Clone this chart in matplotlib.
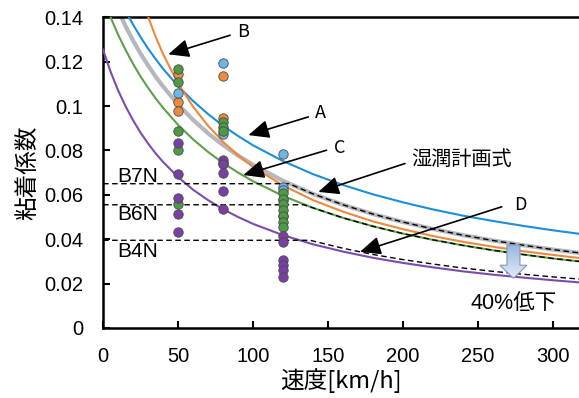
import matplotlib
matplotlib.use("Agg")
import numpy as np
import matplotlib.pyplot as plt
from matplotlib.patches import Polygon
from matplotlib.transforms import ScaledTranslation
from matplotlib.colors import LinearSegmentedColormap
from matplotlib.ticker import FuncFormatter

plt.rcParams['font.family'] = ['Liberation Sans', 'Noto Sans CJK JP', 'DejaVu Sans']
JP = ['Noto Sans CJK JP', 'DejaVu Sans']

# adhesion curves sampled along the speed axis [km/h]
speed = [0, 5, 10, 15, 20, 25, 30, 35, 40, 50, 60, 70, 80, 90, 100,
         120, 140, 160, 180, 200, 220, 240, 260, 280, 300, 320]
wet_plan = [0.160, 0.1511, 0.1432, 0.1360, 0.1295, 0.1236, 0.1183, 0.1133, 0.1088,
            0.1007, 0.0938, 0.0877, 0.0824, 0.0777, 0.0735, 0.0663, 0.0604, 0.0555,
            0.0513, 0.0477, 0.0446, 0.0418, 0.0394, 0.0373, 0.0353, 0.0336]
curve_a = [0.1654, 0.1571, 0.1496, 0.1428, 0.1367, 0.1311, 0.1259, 0.1212, 0.1168,
           0.1090, 0.1023, 0.0964, 0.0911, 0.0865, 0.0823, 0.0752, 0.0693, 0.0644,
           0.0602, 0.0566, 0.0534, 0.0506, 0.0482, 0.0460, 0.0440, 0.0422]
curve_b = [0.2418, 0.2154, 0.1944, 0.1772, 0.1628, 0.1507, 0.1403, 0.1313, 0.1234,
           0.1102, 0.0997, 0.0911, 0.0839, 0.0778, 0.0726, 0.0642, 0.0576, 0.0524,
           0.0480, 0.0445, 0.0414, 0.0388, 0.0366, 0.0346, 0.0329, 0.0313]
curve_c = [0.1488, 0.1400, 0.1322, 0.1253, 0.1190, 0.1133, 0.1082, 0.1035, 0.0992,
           0.0915, 0.0850, 0.0793, 0.0744, 0.0700, 0.0661, 0.0595, 0.0541, 0.0496,
           0.0458, 0.0425, 0.0397, 0.0372, 0.0350, 0.0331, 0.0313, 0.0298]
curve_d = [0.1254, 0.1155, 0.1071, 0.0999, 0.0936, 0.0880, 0.0831, 0.0787, 0.0748,
           0.0680, 0.0623, 0.0576, 0.0535, 0.0500, 0.0469, 0.0418, 0.0377, 0.0344,
           0.0316, 0.0293, 0.0273, 0.0255, 0.0240, 0.0227, 0.0215, 0.0204]

# brake notch limits (dashed)
b7n_speed = [0, 124, 140, 160, 180, 200, 220, 240, 260, 280, 300, 320]
b7n = [0.065, 0.065, 0.0604, 0.0555, 0.0513, 0.0477, 0.0446, 0.0418, 0.0394, 0.0373, 0.0353, 0.0336]
b6n_speed = [0, 134, 140, 160, 180, 200, 220, 240, 260, 280, 300, 320]
b6n = [0.0555, 0.0555, 0.0541, 0.0496, 0.0458, 0.0425, 0.0397, 0.0372, 0.0350, 0.0331, 0.0313, 0.0298]
b4n_speed = [0, 138, 160, 180, 200, 220, 240, 260, 280, 300, 320]
b4n = [0.0395, 0.0395, 0.0359, 0.0331, 0.0308, 0.0288, 0.0270, 0.0255, 0.0242, 0.0230, 0.0219]

# measured points per test speed
pts_speed_orange = [50, 50, 50, 80, 80, 120, 120]
pts_orange = [0.1145, 0.1018, 0.0979, 0.1136, 0.0947, 0.0578, 0.0505]
pts_speed_blue = [50, 80, 80, 120, 120, 120]
pts_blue = [0.1060, 0.1196, 0.0873, 0.0785, 0.0634, 0.0622]
pts_speed_green = [50, 50, 50, 50, 50, 80, 80, 80, 80,
                   120, 120, 120, 120, 120, 120, 120]
pts_green = [0.1169, 0.1110, 0.0889, 0.0803, 0.0558, 0.0929, 0.0906, 0.0888, 0.0742,
             0.0609, 0.0583, 0.0557, 0.0531, 0.0505, 0.0479, 0.0453]
pts_speed_purple = [50, 50, 50, 50, 50, 80, 80, 80, 80, 80,
                    120, 120, 120, 120, 120, 120]
pts_purple = [0.0832, 0.0696, 0.0584, 0.0512, 0.0431, 0.0757, 0.0741, 0.0697, 0.0615, 0.0535,
              0.0414, 0.0388, 0.0306, 0.0284, 0.0259, 0.0231]

x_ticks = [0, 50, 100, 150, 200, 250, 300]
y_ticks = [0, 0.02, 0.04, 0.06, 0.08, 0.10, 0.12, 0.14]

C_BLUE, C_ORANGE, C_GREEN, C_PURPLE, C_GRAY = '#1b8fd8', '#f0883a', '#5da04a', '#7b4cae', '#b4b7bd'
M_BLUE, M_ORANGE, M_GREEN, M_PURPLE = '#6db6e6', '#f08b3e', '#4e9a45', '#7a3fa5'

fig = plt.figure(figsize=(5.79, 3.98), dpi=100)
ax = fig.add_axes([0.178, 0.176, 0.822, 0.7806])

ax.plot(speed, wet_plan, color=C_GRAY, lw=3.0, zorder=2, solid_capstyle='butt')
ax.plot(speed, curve_a, color=C_BLUE, lw=1.5, zorder=3)
ax.plot(speed, curve_b, color=C_ORANGE, lw=1.5, zorder=3)
ax.plot(speed, curve_c, color=C_GREEN, lw=1.5, zorder=3)
ax.plot(speed, curve_d, color=C_PURPLE, lw=1.5, zorder=3)

dash = dict(color='black', lw=1.0, dashes=(4, 2.5), zorder=4)
ax.plot(b7n_speed, b7n, **dash)
ax.plot(b6n_speed, b6n, **dash)
ax.plot(b4n_speed, b4n, **dash)

mk = dict(s=46, edgecolors='#4a4a4a', linewidths=0.6, zorder=5)
ax.scatter(pts_speed_orange, pts_orange, color=M_ORANGE, **mk)
ax.scatter(pts_speed_blue, pts_blue, color=M_BLUE, **mk)
ax.scatter(pts_speed_green, pts_green, color=M_GREEN, **mk)
ax.scatter(pts_speed_purple, pts_purple, color=M_PURPLE, **mk)

# leader arrows
arrow_kw = dict(arrowstyle='-|>,head_length=0.9,head_width=0.4', color='black',
                lw=1.2, mutation_scale=14, shrinkA=0, shrinkB=0)
ax.annotate('', xy=(43.5, 0.1233), xytext=(84.7, 0.1319), arrowprops=arrow_kw, zorder=6)
ax.annotate('', xy=(96.9, 0.0869), xytext=(136.9, 0.0951), arrowprops=arrow_kw, zorder=6)
ax.annotate('', xy=(93.5, 0.0689), xytext=(149.0, 0.0801), arrowprops=arrow_kw, zorder=6)
ax.annotate('', xy=(143.5, 0.0613), xytext=(201.3, 0.0741), arrowprops=arrow_kw, zorder=6)
ax.annotate('', xy=(171.3, 0.0343), xytext=(265.8, 0.0546), arrowprops=arrow_kw, zorder=6)

lab = dict(family=JP, fontsize=13, ha='center', va='center', zorder=7)
ax.text(93.3, 0.1332, 'B', **lab)
ax.text(144.7, 0.0968, 'A', **lab)
ax.text(158.0, 0.0810, 'C', **lab)
ax.text(278.0, 0.0554, 'D', **lab)
ax.text(239.0, 0.0759, '湿潤計画式', family=JP, fontsize=14.5, ha='center', va='center', zorder=7)

notch = dict(fontsize=15, ha='left', va='center', zorder=7)
ax.text(9.5, 0.0684, 'B7N', **notch)
ax.text(9.5, 0.0509, 'B6N', **notch)
ax.text(9.5, 0.0343, 'B4N', **notch)

# 40 % reduction block arrow (shape in inches, anchored at its tip)
tip_v, tip_mu = 273.6, 0.0224
shape = np.array([(0, 0), (-0.135, 0.13), (-0.065, 0.13), (-0.065, 0.333),
                  (0.065, 0.333), (0.065, 0.13), (0.135, 0.13)])
tr = fig.dpi_scale_trans + ScaledTranslation(tip_v, tip_mu, ax.transData)
block = Polygon(shape, closed=True, transform=tr, facecolor='none',
                edgecolor='#8298b8', lw=0.8, zorder=7)
ax.add_patch(block)
grad_cmap = LinearSegmentedColormap.from_list('blk', ['#8fb0dc', '#e8eff9'])
grad = ax.imshow(np.linspace(0, 1, 64).reshape(-1, 1), cmap=grad_cmap, aspect='auto',
                 extent=[tip_v - 10, tip_v + 10, tip_mu - 0.001, tip_mu + 0.0165],
                 origin='upper', zorder=6, interpolation='bilinear')
grad.set_clip_path(block)
ax.text(274.0, 0.0111, '40%低下', fontsize=15.5, ha='center', va='center', zorder=7)

ax.set_xlim(0, 317.3)
ax.set_ylim(0, 0.14)
ax.set_xticks(x_ticks)
ax.set_yticks(y_ticks)
ax.yaxis.set_major_formatter(FuncFormatter(lambda v, p: '0' if v == 0 else ('%g' % round(v, 2))))
ax.tick_params(direction='in', length=5, width=1.5, labelsize=14.5, pad=14)
for side in ('left', 'bottom', 'top'):
    ax.spines[side].set_linewidth(1.8)
ax.spines['right'].set_visible(False)

ax.set_xlabel('速度[km/h]', family=JP, fontsize=17, labelpad=1)
ax.set_ylabel('粘着係数', family=JP, fontsize=17, labelpad=4)

fig.savefig('out.png', dpi=100)
